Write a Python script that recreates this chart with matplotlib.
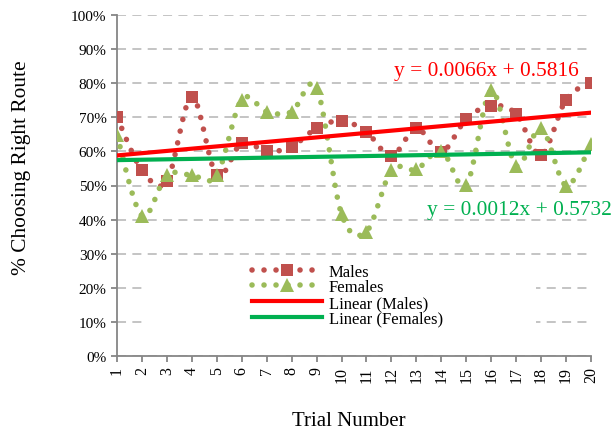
import numpy as np
import matplotlib.pyplot as plt
from matplotlib.patches import Rectangle

plt.rcParams['font.family'] = ['Liberation Serif', 'DejaVu Serif']

trials = list(range(1, 21))
males = [0.700, 0.545, 0.513, 0.760, 0.530, 0.625, 0.600, 0.614, 0.668, 0.690,
         0.657, 0.587, 0.668, 0.598, 0.695, 0.734, 0.710, 0.590, 0.752, 0.802]
females = [0.648, 0.411, 0.530, 0.530, 0.530, 0.752, 0.716, 0.716, 0.786, 0.416,
           0.365, 0.544, 0.547, 0.602, 0.501, 0.779, 0.558, 0.668, 0.500, 0.622]
trend_m = (0.0066, 0.5816)
trend_f = (0.0012, 0.5732)


def smooth(x, y, n=20):
    # excel style smoothed line (catmull-rom through the points)
    x = np.asarray(x, float)
    y = np.asarray(y, float)
    px = np.concatenate([[x[0]], x, [x[-1]]])
    py = np.concatenate([[y[0]], y, [y[-1]]])
    xs, ys = [], []
    t = np.linspace(0, 1, n, endpoint=False)
    for i in range(1, len(px) - 2):
        for arr, out in ((px, xs), (py, ys)):
            p0, p1, p2, p3 = arr[i - 1], arr[i], arr[i + 1], arr[i + 2]
            c1 = p1 + (p2 - p0) / 6
            c2 = p2 - (p3 - p1) / 6
            out.extend((1 - t) ** 3 * p1 + 3 * (1 - t) ** 2 * t * c1
                       + 3 * (1 - t) * t ** 2 * c2 + t ** 3 * p2)
    xs.append(x[-1])
    ys.append(y[-1])
    return np.array(xs), np.array(ys)


fig = plt.figure(figsize=(6.15, 4.31), dpi=100)
ax = fig.add_axes([117 / 615, 1 - 357 / 431, 474 / 615, 341 / 431])

c_m = '#C0504D'
c_f = '#9BBB59'
dots = (0, (0.01, 2.15))
lw_d = 4

xm, ym = smooth(trials, males)
xf, yf = smooth(trials, females)
ax.plot(xm, ym, color=c_m, lw=lw_d, ls=dots, dash_capstyle='round', zorder=3)
ax.plot(trials, males, color=c_m, ls='none', marker='s', ms=8, mew=0, zorder=4)
ax.plot(xf, yf, color=c_f, lw=lw_d, ls=dots, dash_capstyle='round', zorder=3)
ax.plot(trials, females, color=c_f, ls='none', marker='^', ms=9.5, mew=0, zorder=4)

tx = np.array([trials[0], trials[-1]])
ax.plot(tx, trend_m[0] * tx + trend_m[1], color='#FF0000', lw=3, zorder=5)
ax.plot(tx, trend_f[0] * tx + trend_f[1], color='#00B050', lw=3, zorder=5)

# legend handles
h1, = ax.plot([], [], color=c_m, lw=lw_d, ls=dots, dash_capstyle='round',
              marker='s', ms=8, mew=0)
h2, = ax.plot([], [], color=c_f, lw=lw_d, ls=dots, dash_capstyle='round',
              marker='^', ms=9.5, mew=0)
h3, = ax.plot([], [], color='#FF0000', lw=3)
h4, = ax.plot([], [], color='#00B050', lw=3)

ax.add_patch(Rectangle((0.063, 0.065), 0.82, 0.21, transform=ax.transAxes,
                       facecolor='white', edgecolor='none', zorder=2))
leg = ax.legend([h1, h2, h3, h4], ['Males', 'Females', 'Linear (Males)', 'Linear (Females)'],
                loc='upper left', bbox_to_anchor=(0.285, 0.271), frameon=False,
                fontsize=12, handlelength=4.2, handletextpad=0.4, labelspacing=-0.02,
                numpoints=1, borderpad=0, borderaxespad=0)

ax.text(15.8, 0.836, 'y = 0.0066x + 0.5816', color='#FF0000', fontsize=15.4,
        ha='center', va='center', zorder=6)
ax.text(17.15, 0.431, 'y = 0.0012x + 0.5732', color='#00B050', fontsize=15.4,
        ha='center', va='center', zorder=6, clip_on=False)

ax.set_xlim(1, 20)
ax.set_ylim(0, 1)
ax.set_xticks(trials)
ax.set_xticklabels([str(t) for t in trials], rotation=90, fontsize=11.5)
ax.set_yticks(np.arange(0, 1.01, 0.1))
ax.set_yticklabels(['%d%%' % v for v in range(0, 101, 10)], fontsize=11)
ax.grid(axis='y', color='#BFBFBF', lw=1.3, ls=(0, (5, 3.5)), zorder=1)
ax.set_axisbelow(True)
for s in ['top', 'right']:
    ax.spines[s].set_visible(False)
for s in ['left', 'bottom']:
    ax.spines[s].set_color('#868686')
    ax.spines[s].set_linewidth(1.3)
ax.tick_params(colors='#868686', labelcolor='black', width=1.3, length=4)
ax.set_ylabel('% Choosing Right Route', fontsize=15.4)
ax.yaxis.set_label_coords(-0.182, 0.554)
ax.set_xlabel('Trial Number', fontsize=15)
ax.xaxis.set_label_coords(0.49, -0.16)

fig.savefig('out.png', dpi=100)
